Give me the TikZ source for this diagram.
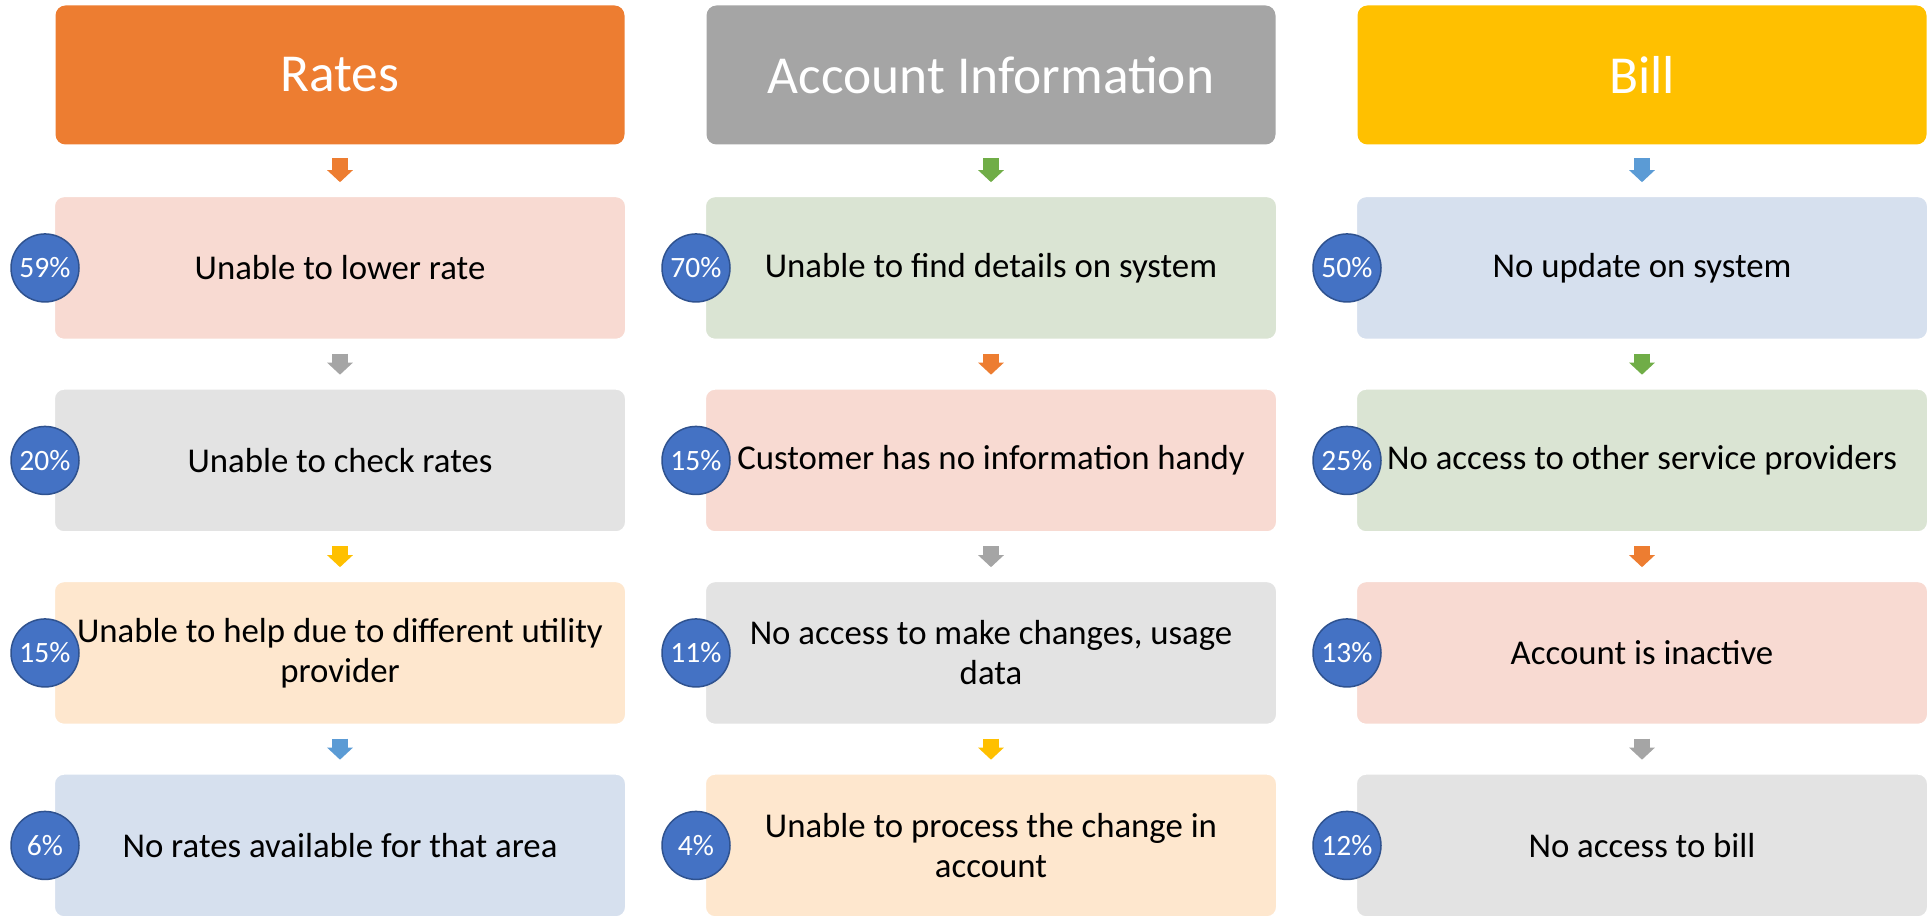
\documentclass[tikz,border=0pt]{standalone}
\usepackage{fontspec}
\setmainfont{Carlito}
\usepackage{xcolor}
\usepackage{tikz}
\usetikzlibrary{positioning, arrows.meta}

\definecolor{accorange}{HTML}{ED7D31}
\definecolor{accgray}{HTML}{A5A5A5}
\definecolor{accyellow}{HTML}{FFC000}
\definecolor{accblue}{HTML}{5B9BD5}
\definecolor{accgreen}{HTML}{70AD47}
\definecolor{lightorange}{HTML}{F8DAD2}
\definecolor{lightgray}{HTML}{E3E3E3}
\definecolor{lightyellow}{HTML}{FEE7CE}
\definecolor{lightblue}{HTML}{D6E0EE}
\definecolor{lightgreen}{HTML}{DAE4D3}
\definecolor{pctfill}{HTML}{4472C4}
\definecolor{pctedge}{HTML}{2F528F}

\begin{document}
\begin{tikzpicture}[x=0.1mm, y=-0.1mm, node distance=4.7mm,
  head/.style={rounded corners=1mm, minimum width=56.9mm, minimum height=13.9mm,
    inner sep=0pt, text=white, font=\fontsize{15.2}{18}\selectfont},
  item/.style={rounded corners=1mm, minimum width=57.2mm, minimum height=14.35mm,
    inner sep=0pt, align=center, draw=white, line width=0.2mm,
    font=\fontsize{9.9}{11.4}\selectfont},
  pct/.style={circle, fill=pctfill, draw=pctedge, line width=0.15mm,
    minimum size=6.8mm, inner sep=0pt, text=white, xshift=-0.8mm,
    font=\fontsize{8.4}{10}\selectfont},
  flow/.style={line width=1.6mm, -{Triangle[width=2.5mm,length=1.2mm]},
    shorten <=1.3mm, shorten >=1.3mm}]
\useasboundingbox (0,0) rectangle (1931,918);
% headers
\node[head, fill=accorange] (rates) at (340,75) {Rates};
\node[head, fill=accgray] (acct) at (991,75) {Account Information};
\node[head, fill=accyellow] (bill) at (1642,75) {Bill};
% Rates column
\node[item, fill=lightorange, below=5mm of rates] (r1) {Unable to lower rate};
\node[item, fill=lightgray, below=of r1] (r2) {Unable to check rates};
\node[item, fill=lightyellow, below=of r2] (r3) {Unable to help due to different utility\\provider};
\node[item, fill=lightblue, below=of r3] (r4) {No rates available for that area};
\draw[flow, accorange] (rates) -- (r1);
\draw[flow, accgray] (r1) -- (r2);
\draw[flow, accyellow] (r2) -- (r3);
\draw[flow, accblue] (r3) -- (r4);
\node[pct] (r1pct) at (r1.west) {59\%};
\node[pct] (r2pct) at (r2.west) {20\%};
\node[pct] (r3pct) at (r3.west) {15\%};
\node[pct] (r4pct) at (r4.west) {6\%};
% Account Information column
\node[item, fill=lightgreen, below=5mm of acct] (a1) {Unable to find details on system};
\node[item, fill=lightorange, below=of a1] (a2) {Customer has no information handy};
\node[item, fill=lightgray, below=of a2] (a3) {No access to make changes, usage\\data};
\node[item, fill=lightyellow, below=of a3] (a4) {Unable to process the change in\\account};
\draw[flow, accgreen] (acct) -- (a1);
\draw[flow, accorange] (a1) -- (a2);
\draw[flow, accgray] (a2) -- (a3);
\draw[flow, accyellow] (a3) -- (a4);
\node[pct] (a1pct) at (a1.west) {70\%};
\node[pct] (a2pct) at (a2.west) {15\%};
\node[pct] (a3pct) at (a3.west) {11\%};
\node[pct] (a4pct) at (a4.west) {4\%};
% Bill column
\node[item, fill=lightblue, below=5mm of bill] (b1) {No update on system};
\node[item, fill=lightgreen, below=of b1] (b2) {No access to other service providers};
\node[item, fill=lightorange, below=of b2] (b3) {Account is inactive};
\node[item, fill=lightgray, below=of b3] (b4) {No access to bill};
\draw[flow, accblue] (bill) -- (b1);
\draw[flow, accgreen] (b1) -- (b2);
\draw[flow, accorange] (b2) -- (b3);
\draw[flow, accgray] (b3) -- (b4);
\node[pct] (b1pct) at (b1.west) {50\%};
\node[pct] (b2pct) at (b2.west) {25\%};
\node[pct] (b3pct) at (b3.west) {13\%};
\node[pct] (b4pct) at (b4.west) {12\%};
\end{tikzpicture}
\end{document}
